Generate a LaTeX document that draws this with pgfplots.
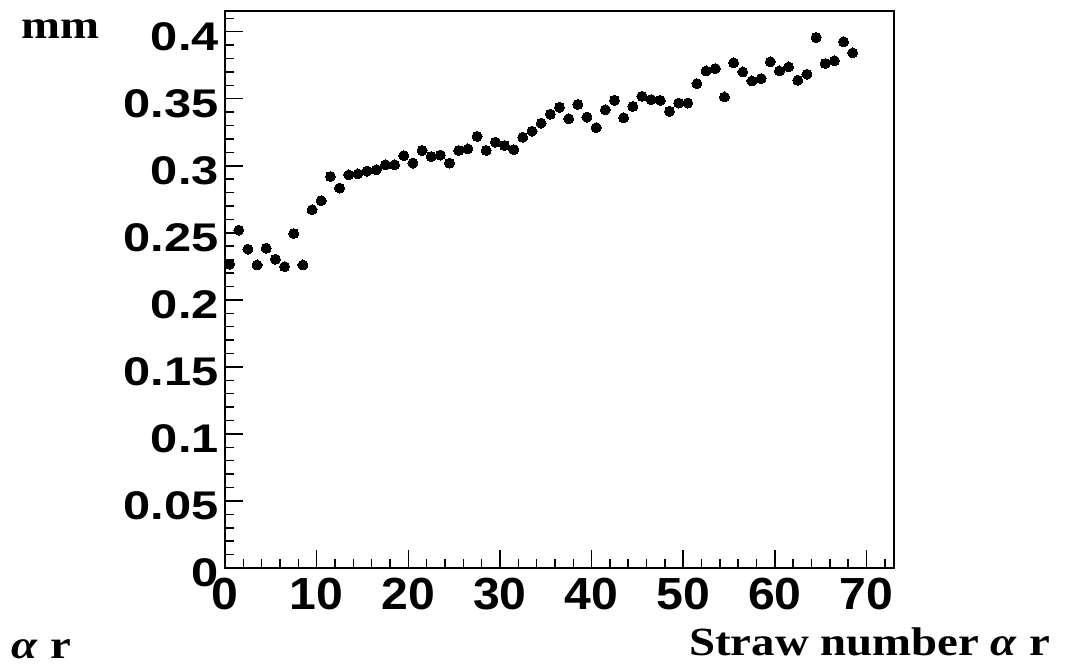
\documentclass[border=0pt]{standalone}
\usepackage{fontspec}
\setmainfont{Liberation Serif}
\newfontfamily\sansb{Liberation Sans}
\usepackage{graphicx}
\usepackage{pgfplots}
\pgfplotsset{compat=1.18}
\newcommand{\yl}[1]{\scalebox{1.22}[1]{\sansb\bfseries\fontsize{40}{40}\selectfont #1}}
\newcommand{\xl}[1]{\scalebox{1.07}[1]{\sansb\bfseries\fontsize{45}{45}\selectfont #1}}
\newcommand{\tl}[2]{\scalebox{1.17}[1]{\bfseries\fontsize{#1}{#1}\selectfont #2}}
\begin{document}
\begin{tikzpicture}[x=1pt,y=1pt]
\path[use as bounding box] (0,0) rectangle (1067,665);
\begin{axis}[
  at={(225pt,97pt)}, anchor=south west,
  scale only axis, width=669pt, height=557pt,
  xmin=0, xmax=73, ymin=0, ymax=0.41544,
  axis line style={line width=2pt},
  tick style={line width=1.5pt, black},
  tick align=inside, tick pos=left,
  major tick length=18pt, minor tick length=9pt,
  xtick={0,10,...,70},
  xticklabels={\xl{0},\xl{10},\xl{20},\xl{30},\xl{40},\xl{50},\xl{60},\xl{70}},
  minor xtick={0,2,...,72},
  ytick={0,0.05,0.1,0.15,0.2,0.25,0.3,0.35,0.4},
  yticklabels={\yl{0},\yl{0.05},\yl{0.1},\yl{0.15},\yl{0.2},\yl{0.25},\yl{0.3},\yl{0.35},\yl{0.4}},
  minor ytick={0,0.01,...,0.415},
  yticklabel style={anchor=east, inner sep=0pt, xshift=-6pt, yshift=-5pt},
  xticklabel style={anchor=north, inner sep=0pt, yshift=-10pt},
  clip=false,
]
\addplot[only marks, mark=*, mark size=5pt, mark options={fill=black, draw=black, line width=0pt}] coordinates {
(0.5,0.2266) (1.5,0.252) (2.5,0.2378) (3.5,0.226) (4.5,0.2385) (5.5,0.2303)
(6.5,0.2248) (7.5,0.2495) (8.5,0.226) (9.5,0.2672) (10.5,0.274) (11.5,0.292)
(12.5,0.2834) (13.5,0.2932) (14.5,0.294) (15.5,0.296) (16.5,0.297) (17.5,0.3007)
(18.5,0.3007) (19.5,0.3076) (20.5,0.302) (21.5,0.3114) (22.5,0.3069) (23.5,0.308)
(24.5,0.302) (25.5,0.3114) (26.5,0.3126) (27.5,0.3219) (28.5,0.3114) (29.5,0.3176)
(30.5,0.3151) (31.5,0.3121) (32.5,0.3213) (33.5,0.3258) (34.5,0.3318) (35.5,0.3385)
(36.5,0.3436) (37.5,0.3351) (38.5,0.3458) (39.5,0.3363) (40.5,0.3284) (41.5,0.3418)
(42.5,0.3488) (43.5,0.3358) (44.5,0.3443) (45.5,0.3518) (46.5,0.3493) (47.5,0.3488)
(48.5,0.3406) (49.5,0.3468) (50.5,0.3468) (51.5,0.3613) (52.5,0.3707) (53.5,0.3725)
(54.5,0.3513) (55.5,0.3768) (56.5,0.3700) (57.5,0.3633) (58.5,0.365) (59.5,0.3775)
(60.5,0.3707) (61.5,0.3737) (62.5,0.3638) (63.5,0.3683) (64.5,0.3957) (65.5,0.3763)
(66.5,0.3783) (67.5,0.3925) (68.5,0.3842)
};
\end{axis}
\node[anchor=base west, inner sep=0pt] at (21.7,626.7) {\tl{40}{mm}};
\node[anchor=base west, inner sep=0pt] at (11.7,7) {\tl{40}{\textit{α} r}};
\node[anchor=base east, inner sep=0pt] at (1050,10) {\tl{40}{Straw number \textit{α} r}};
\end{tikzpicture}
\end{document}
